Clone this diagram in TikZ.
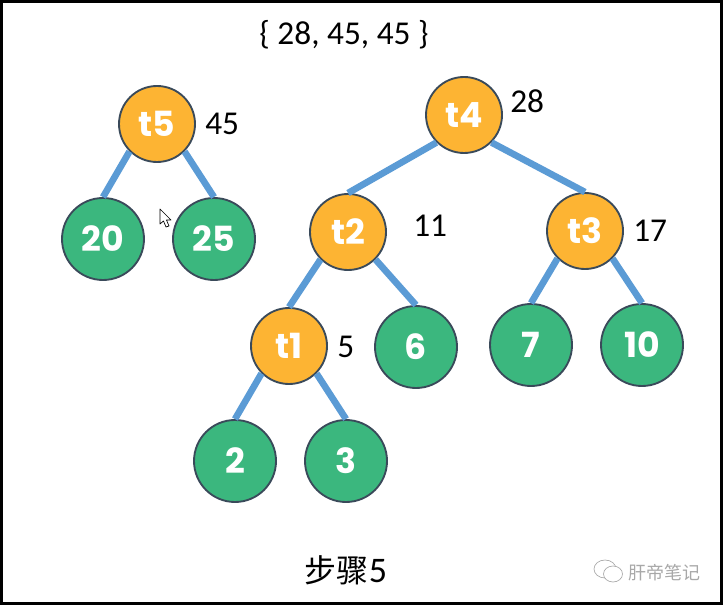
\documentclass[tikz,border=0pt]{standalone}
\usepackage{fontspec}
\setmainfont{Carlito}
\newfontfamily\cjkfont{Noto Sans CJK SC}
\newfontfamily\roundfont[BoldFont=Poppins Bold]{Poppins}
\usetikzlibrary{positioning, arrows.meta}
\definecolor{clrtask}{HTML}{FDB433}
\definecolor{clrleaf}{HTML}{3BB77E}
\definecolor{clrborder}{HTML}{3A4A5A}
\definecolor{clredge}{HTML}{5B9BD5}
\definecolor{clrmark}{HTML}{A8A8A8}
\begin{document}
\begin{tikzpicture}[
    x=0.75pt, y=-0.75pt,
    every node/.style={font=\fontsize{25}{28}\selectfont, text=black},
    task/.style={circle, draw=clrborder, fill=clrtask, line width=1.4pt, minimum size=57pt,
                 inner sep=0pt, text=white, font=\roundfont\bfseries\fontsize{26}{28}\selectfont},
    leaf/.style={circle, draw=clrborder, fill=clrleaf, line width=1.4pt, minimum size=61.5pt,
                 inner sep=0pt, text=white, font=\roundfont\bfseries\fontsize{26}{28}\selectfont},
    edge/.style={color=clredge, line width=5pt},
    weight/.style={anchor=west, inner sep=0pt},
]
\useasboundingbox (0,0) rectangle (723,605);
\draw[black, line width=2.25pt] (1.5,1.5) rectangle (721.5,603.5);
\node[task] (t5) at (157,124) {t5};
\node[task] (t4) at (464,115) {t4};
\node[task] (t2) at (348,232) {t2};
\node[task] (t3) at (585,231) {t3};
\node[task] (t1) at (289,346) {t1};
\node[leaf] (n_20) at (103,239) {20};
\node[leaf] (n_25) at (214,239) {25};
\node[leaf] (n_6) at (416,347) {6};
\node[leaf] (n_7) at (531,345) {7};
\node[leaf] (n_10) at (642,345) {10};
\node[leaf] (n_2) at (235,461) {2};
\node[leaf] (n_3) at (346,461) {3};
\draw[edge] (t5.south west) -- (n_20.north);
\draw[edge] (t5.south east) -- (n_25.north);
\draw[edge] (t4.south west) -- (t2.north);
\draw[edge] (t4.south east) -- (t3.north);
\draw[edge] (t2.south west) -- (t1.north);
\draw[edge] (t2.south east) -- (n_6.north);
\draw[edge] (t3.south west) -- (n_7.north);
\draw[edge] (t3.south east) -- (n_10.north);
\draw[edge] (t1.south west) -- (n_2.north);
\draw[edge] (t1.south east) -- (n_3.north);
\node[weight] (w_5) at (205,124) {45};
\node[weight] (w_4) at (510,101) {28};
\node[weight] (w_2) at (413,226) {11};
\node[weight] (w_3) at (633,231) {17};
\node[weight] (w_1) at (337,347) {5};
\node (n_title) at (344,35) {\{ 28, 45, 45 \}};
\node (n_step) at (346,570) {\cjkfont\fontsize{24}{28}\selectfont 步骤\rmfamily\fontsize{27}{28}\selectfont 5};
\node[anchor=west, inner sep=0pt, text=clrmark, font=\cjkfont\fontsize{13.5}{16}\selectfont] (n_mark) at (628,573) {肝帝笔记};
% wechat icon
\draw[clrmark, line width=0.5pt] (605,569) ellipse (11 and 9);
\draw[clrmark, line width=0.5pt, fill=white] (613,574) ellipse (9.5 and 8);
% mouse cursor
\draw[black, fill=white, line width=0.5pt, line join=round] (160,209) -- (160,224) -- (163.5,221) -- (166,227) -- (169,226) -- (166.5,220) -- (171,220) -- cycle;
\end{tikzpicture}
\end{document}
